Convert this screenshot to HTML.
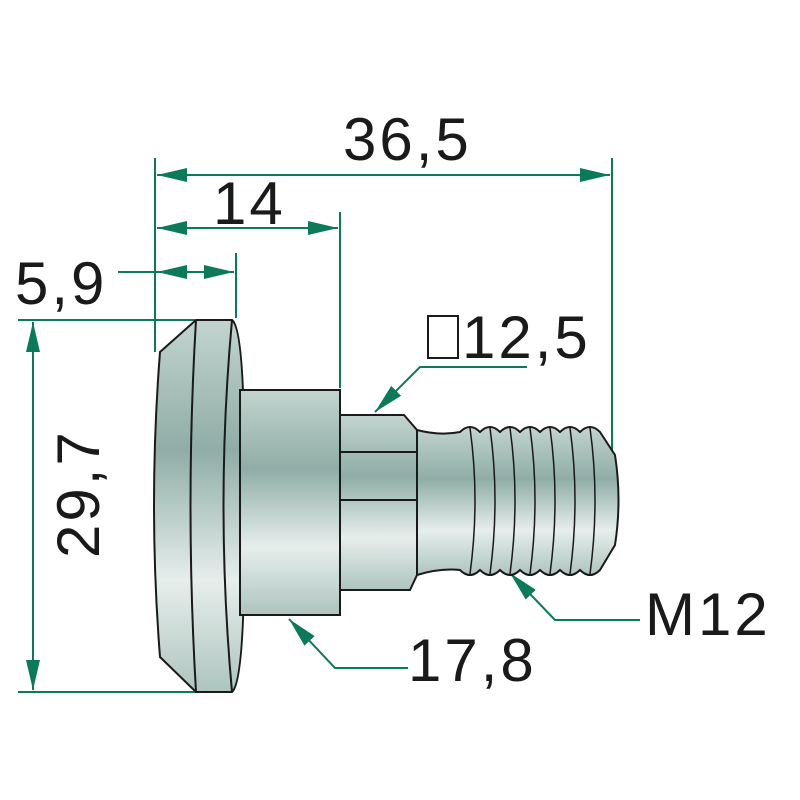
<!DOCTYPE html>
<html><head><style>body{margin:0;background:#fff}svg{display:block}</style></head><body>
<svg width="800" height="800" viewBox="0 0 800 800" xmlns="http://www.w3.org/2000/svg">
<defs>
<linearGradient id="g" x1="0" y1="0" x2="0" y2="1">
<stop offset="0" stop-color="#c3d4cf"/><stop offset="0.35" stop-color="#8fada6"/><stop offset="0.7" stop-color="#e6eeec"/><stop offset="1" stop-color="#aec4be"/></linearGradient>
<marker id="a" viewBox="0 0 30 14" refX="30" refY="7" markerWidth="30" markerHeight="14" orient="auto-start-reverse" markerUnits="userSpaceOnUse"><path d="M0,0L30,7L0,14z" fill="#0b7a5a"/></marker>
</defs>
<g stroke="#0b7a5a" stroke-width="2" fill="none">
<line x1="155" y1="158" x2="155" y2="352"/><line x1="612" y1="158" x2="612" y2="455"/>
<line x1="340" y1="212" x2="340" y2="388"/><line x1="236" y1="253" x2="236" y2="318"/>
<line x1="18" y1="320" x2="195" y2="320"/><line x1="18" y1="692" x2="200" y2="692"/>
<line x1="157" y1="175" x2="610" y2="175" marker-start="url(#a)" marker-end="url(#a)"/>
<line x1="157" y1="228" x2="338" y2="228" marker-start="url(#a)" marker-end="url(#a)"/>
<line x1="118" y1="272" x2="234" y2="272"/>
<path d="M157,272l30,-7v14z M234,272l-30,-7v14z" fill="#0b7a5a" stroke="none"/>
<line x1="33" y1="322" x2="33" y2="690" marker-start="url(#a)" marker-end="url(#a)"/>
<polyline points="527,367 420,367 375,412" marker-end="url(#a)"/>
<polyline points="408,668 335,668 289,619" marker-end="url(#a)"/>
<polyline points="640,620 555,620 510,573" marker-end="url(#a)"/>
</g>
<g stroke="#1a1a1a" stroke-width="2" fill="url(#g)">
<path d="M460,432 Q470,422 480,432 Q490,422 500,432 Q510,422 520,432 Q530,422 540,432 Q550,422 560,432 Q570,422 580,432 Q590,422 600,432 L615,455 Q622,500 615,545 L600,570 Q590,580 580,570 Q570,580 560,570 Q550,580 540,570 Q530,580 520,570 Q510,580 500,570 Q490,580 480,570 Q470,580 460,570 Q440,568 417,575 L417,430 Q440,436 460,432z"/>
<path d="M470,428 Q480,500 470,574 M490,428 Q500,500 490,574 M510,428 Q520,500 510,574 M530,428 Q540,500 530,574 M550,428 Q560,500 550,574 M570,428 Q580,500 570,574 M590,428 Q600,500 590,574" fill="none" stroke-width="1.5"/>
<path d="M340,415 L404,415 L417,430 L417,575 L410,590 L340,590z"/>
<path d="M340,452 L417,452 M340,500 L417,500" fill="none"/>
<path d="M196,320 L232,320 Q246,330 244,505 Q246,680 232,692 L196,692 L160,657 Q148,505 160,352z"/>
<path d="M196,320 Q185,505 196,692 M232,320 Q215,505 232,692" fill="none"/>
<rect x="240" y="390" width="100" height="225"/>
</g>
<g font-family="Liberation Sans, sans-serif" font-size="60" fill="#1a1a1a" letter-spacing="3">
<text x="343" y="160">36,5</text>
<text x="213" y="224">14</text>
<text x="15" y="304">5,9</text>
<text transform="translate(99,558) rotate(-90)">29,7</text>
<rect x="428" y="316" width="30" height="42" fill="none" stroke="#1a1a1a" stroke-width="2"/>
<text x="462" y="358">12,5</text>
<text x="408" y="681">17,8</text>
<text x="645" y="635">M12</text>
</g>
</svg>
</body></html>
